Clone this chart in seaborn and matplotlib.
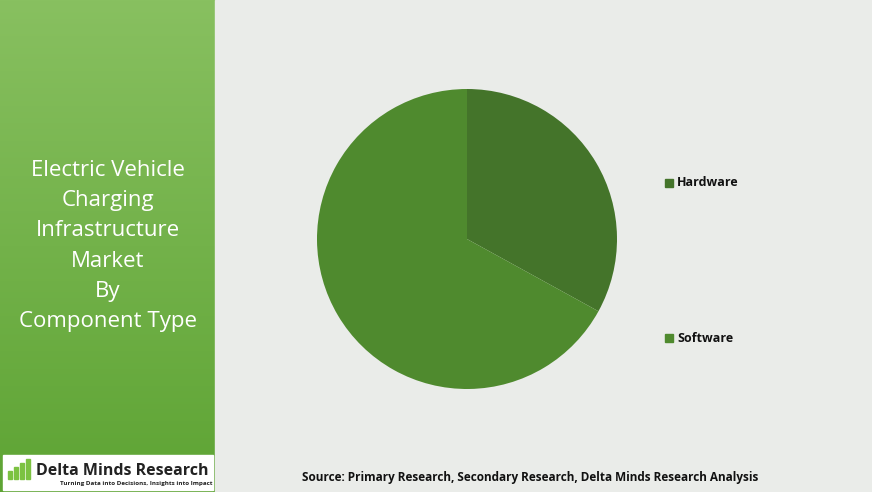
import numpy as np
import matplotlib.pyplot as plt
import seaborn as sns
from matplotlib.patches import Rectangle

sns.set_theme(style="white")
plt.rcParams["font.family"] = ["Open Sans", "DejaVu Sans"]

components = ["Hardware", "Software"]
shares = [33, 67]
colors = ["#44742a", "#4f8a2e"]

W, H = 872, 492
fig = plt.figure(figsize=(W / 100, H / 100), dpi=100)
fig.patch.set_facecolor("#e9ebe8")

# left green panel with vertical gradient
bg = fig.add_axes([0, 0, 1, 1], zorder=0)
bg.axis("off")
grad = np.linspace(0, 1, 256).reshape(-1, 1)
cmap = sns.blend_palette(["#88c060", "#5ea434"], as_cmap=True)
bg.imshow(grad, cmap=cmap, extent=[0, 215, H, 0], aspect="auto")
bg.add_patch(Rectangle((215, 0), W - 215, H, color="#eaece9"))
bg.add_patch(Rectangle((3, 455), 210, 35, color="white"))
bg.set_xlim(0, W)
bg.set_ylim(H, 0)

bg.text(108, 246, "Electric Vehicle\nCharging\nInfrastructure\nMarket\nBy\nComponent Type",
        color="white", fontsize=16, ha="center", va="center", linespacing=1.58)

# logo
for i, h in enumerate([8, 12, 16, 20]):
    bg.add_patch(Rectangle((8 + i * 6, 479 - h), 4, h, color="#7cc242"))
bg.text(36, 471, "Delta Minds Research", fontsize=11.5, fontweight="bold",
        color="#222222", va="center")
bg.text(60, 484, "Turning Data into Decisions, Insights into Impact", fontsize=4.5,
        fontweight="bold", color="#222222", va="center")

bg.text(530, 478, "Source: Primary Research, Secondary Research, Delta Minds Research Analysis",
        fontsize=8.5, fontweight="bold", color="#111111", ha="center", va="center")

# pie
cx, cy, r = 467, 239, 150
ax = fig.add_axes([(cx - r) / W, (H - cy - r) / H, 2 * r / W, 2 * r / H], zorder=1)
ax.pie(shares, colors=colors, startangle=90, counterclock=False,
       wedgeprops={"linewidth": 0})
ax.set_xlim(-1, 1)
ax.set_ylim(-1, 1)
ax.set_aspect("equal")
ax.axis("off")

# legend
for name, col, y in zip(components, colors, [183, 338]):
    bg.add_patch(Rectangle((665, y - 4), 8, 8, color=col, zorder=3))
    bg.text(677, y, name, fontsize=9, fontweight="bold", color="#111111", va="center")

fig.savefig("out.png", dpi=100)
